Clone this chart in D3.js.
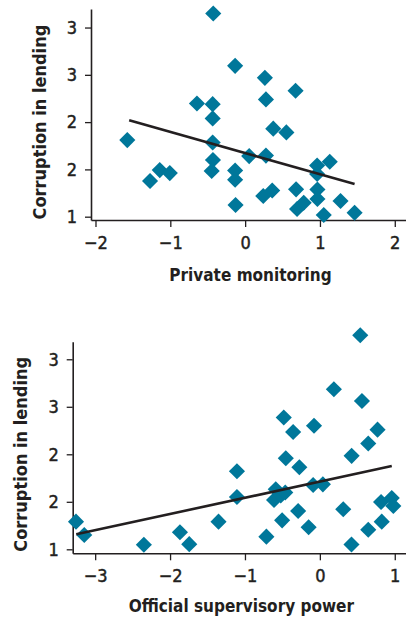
<!DOCTYPE html>
<html>
<head>
<meta charset="utf-8">
<script src="https://cdn.jsdelivr.net/npm/d3@7"></script>
<style>
  body { margin: 0; background: #fff; }
  svg { display: block; }
  text { font-family: 'DejaVu Sans Condensed', 'DejaVu Sans', sans-serif; font-stretch: condensed; fill: #231f20; }
</style>
</head>
<body>
<script>
// panel 1: private monitoring
const privX = [-1.575, -1.271, -1.141, -1.007, -0.644, -0.426, -0.134, 0.264, 0.278, 0.674,
  -0.434, -0.434, 0.376, 0.551, -0.434, 0.054, 0.278, -0.43, -0.447, -0.134,
  -0.134, -0.128, 0.242, 0.362, 0.681, 0.694, 0.783, 0.962, 1.131, 0.962,
  0.966, 0.966, 1.051, 1.275, 1.463];
const privY = [1.81, 1.377, 1.493, 1.461, 2.197, 3.148, 2.595, 2.468, 2.24, 2.331,
  2.19, 2.039, 1.931, 1.891, 1.784, 1.641, 1.646, 1.599, 1.483, 1.488,
  1.391, 1.124, 1.219, 1.277, 1.289, 1.081, 1.148, 1.541, 1.581, 1.451,
  1.287, 1.187, 1.018, 1.166, 1.042];
const privFitX = [-1.55, 1.463];
const privFitY = [2.02, 1.345];

// panel 2: official supervisory power
const supX = [-3.256, -3.146, -2.35, -1.868, -1.744, -1.353, -1.107, -1.107, -0.714, -0.612,
  -0.589, -0.522, -0.462, -0.504, -0.482, -0.455, -0.357, -0.29, -0.274, -0.15,
  -0.09, -0.078, 0.04, 0.187, 0.312, 0.422, 0.424, 0.539, 0.562, 0.646,
  0.646, 0.77, 0.817, 0.826, 0.96, 0.981];
const supY = [1.291, 1.151, 1.048, 1.179, 1.054, 1.291, 1.821, 1.551, 1.133, 1.519,
  1.632, 1.566, 1.598, 1.305, 2.387, 1.958, 2.235, 1.403, 1.863, 1.232,
  1.677, 2.301, 1.684, 2.684, 1.421, 1.051, 1.984, 3.253, 2.561, 2.114,
  1.206, 2.259, 1.498, 1.291, 1.54, 1.456];
const supFitX = [-3.253, 0.96];
const supFitY = [1.158, 1.877];

// the source rounds its y ticks to whole numbers
const yTicks = [1, 1.5, 2, 2.5, 3];
const yTickLabels = ['1', '2', '2', '3', '3'];
const privXTicks = [-2, -1, 0, 1, 2];
const supXTicks = [-3, -2, -1, 0, 1];

const W = 406, H = 619;
const teal = '#00779a';
const ink = '#231f20';

const svg = d3.select('body').append('svg').attr('width', W).attr('height', H);

function panel(opt) {
  const x = d3.scaleLinear().domain(opt.xDomain).range([opt.left, opt.right]);
  const y = d3.scaleLinear().domain(opt.yDomain).range([opt.bottom, opt.top]);
  const g = svg.append('g');

  const yAxis = d3.axisLeft(y)
    .tickValues(yTicks)
    .tickFormat((d, i) => yTickLabels[i])
    .tickSize(6)
    .tickSizeOuter(0)
    .tickPadding(8);
  g.append('g')
    .attr('transform', `translate(${opt.left},0)`)
    .call(yAxis);

  const xAxis = d3.axisBottom(x)
    .tickValues(opt.xTicks)
    .tickFormat(d => d < 0 ? '\u2212' + Math.abs(d) : d)
    .tickSize(7)
    .tickSizeOuter(0)
    .tickPadding(9);
  g.append('g')
    .attr('transform', `translate(0,${opt.bottom})`)
    .call(xAxis);

  g.selectAll('.domain').attr('stroke', ink).attr('stroke-width', 1.6);
  g.selectAll('.tick line').attr('stroke', ink).attr('stroke-width', 1.3);
  g.selectAll('.tick text')
    .style('font-size', '18px')
    .attr('fill', ink)
    .attr('stroke', ink)
    .attr('stroke-width', 0.45);

  const pts = opt.xs.map((v, i) => [v, opt.ys[i]]);
  g.selectAll('path.pt')
    .data(pts)
    .enter()
    .append('path')
    .attr('class', 'pt')
    .attr('d', d3.symbol(d3.symbolSquare, 130))
    .attr('fill', teal)
    .attr('transform', d => `translate(${x(d[0])},${y(d[1])}) rotate(45)`);

  const fit = opt.fitX.map((v, i) => [v, opt.fitY[i]]);
  g.append('path')
    .datum(fit)
    .attr('fill', 'none')
    .attr('stroke', ink)
    .attr('stroke-width', 2.6)
    .attr('d', d3.line().x(d => x(d[0])).y(d => y(d[1])));

  g.append('text')
    .attr('x', (opt.left + opt.right) / 2 + 2)
    .attr('y', opt.xTitleY)
    .attr('text-anchor', 'middle')
    .style('font-size', '17px')
    .attr('font-weight', 'bold')
    .text(opt.xTitle);

  g.append('text')
    .attr('transform', `translate(${opt.yTitleX},${y(2)}) rotate(-90)`)
    .attr('text-anchor', 'middle')
    .style('font-size', '18px')
    .attr('font-weight', 'bold')
    .text('Corruption in lending');
}

panel({
  xs: privX, ys: privY, fitX: privFitX, fitY: privFitY,
  xDomain: [-2.06, 2.15], yDomain: [0.965, 3.196], xTicks: privXTicks,
  left: 91, right: 406, top: 9, bottom: 220,
  xTitle: 'Private monitoring', xTitleY: 281, yTitleX: 46
});

panel({
  xs: supX, ys: supY, fitX: supFitX, fitY: supFitY,
  xDomain: [-3.3, 1.15], yDomain: [0.958, 3.185], xTicks: supXTicks,
  left: 72.7, right: 406, top: 341.7, bottom: 553.3,
  xTitle: 'Official supervisory power', xTitleY: 612, yTitleX: 27
});
</script>
</body>
</html>
